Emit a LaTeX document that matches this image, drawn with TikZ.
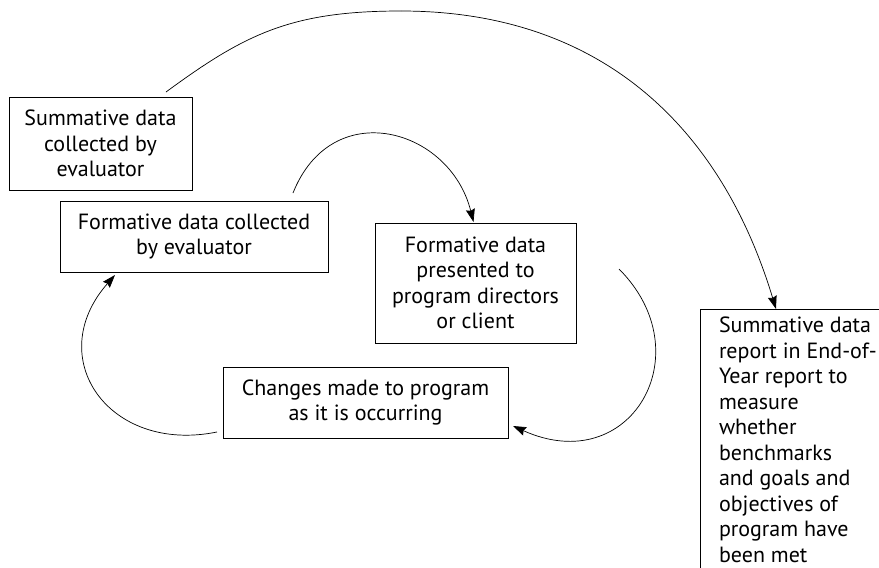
\documentclass[tikz,border=0pt]{standalone}
\usepackage{fontspec}
\setmainfont{PT Sans}
\usetikzlibrary{arrows.meta,calc}
\begin{document}
\begin{tikzpicture}[x=1pt,y=-1pt,
  every node/.style={inner sep=0pt, outer sep=0pt},
  box/.style={draw, line width=0.8pt, align=center, font=\fontsize{22}{25.5}\selectfont},
  conn/.style={line width=0.7pt, -{Stealth[length=13pt,width=9pt,inset=1.5pt]}}]
\useasboundingbox (0,0) rectangle (879,568);
\clip (0,0) rectangle (879,568);
\node[box, minimum width=183, minimum height=93] (b1) at (100.5,143.5) {Summative data\\collected by\\evaluator};
\node[box, minimum width=268, minimum height=71] (b2) at (194,236.5) {Formative data collected\\by evaluator};
\node[box, minimum width=201, minimum height=120] (b3) at (475.5,283) {Formative data\\presented to\\program directors\\or client};
\node[box, minimum width=285, minimum height=71] (b4) at (365.5,402.5) {Changes made to program\\as it is occurring};
\node[draw, line width=0.8pt, anchor=north west, minimum width=179, minimum height=300] (b5) at (700,309) {};
\node[anchor=north west, align=left, font=\fontsize{22}{25.5}\selectfont] (b5t) at (719,317) {Summative data\\report in End-of-\\Year report to\\measure\\whether\\benchmarks\\and goals and\\objectives of\\program have\\been met};
% connectors
\coordinate (s1) at (166,92);
\coordinate (pk1) at (401,11);
\coordinate (e1) at ($(b5.north west)+(76,0)$);
\draw[line width=0.7pt] (s1) .. controls (245,34) and (291,11) .. (pk1);
\draw[conn] (pk1) .. controls (601,11) and (721,127) .. (e1);
\coordinate (s2) at ($(b2.north)+(99,-8)$);
\draw[conn] (s2) .. controls (332,95) and (450,128) .. ($(b3.north)+(-2,-1)$);
\coordinate (s3) at ($(b3.east)+(43,-14)$);
\coordinate (e3) at ($(b4.south east)+(5,-12)$);
\draw[conn] (s3) .. controls (703,353) and (631,479) .. (e3);
\coordinate (s4) at ($(b4.south west)+(-6,-6)$);
\coordinate (e4) at ($(b2.south west)+(55,3)$);
\draw[conn] (s4) .. controls (109,454) and (42,358) .. (e4);
\end{tikzpicture}
\end{document}
